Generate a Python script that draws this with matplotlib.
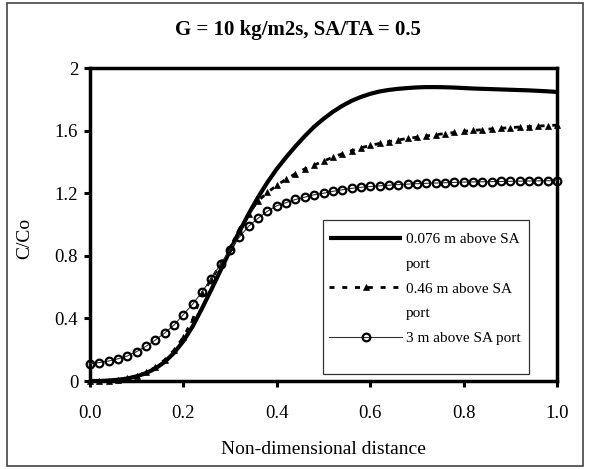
import matplotlib
matplotlib.use("Agg")
import matplotlib.pyplot as plt
from matplotlib.lines import Line2D
from matplotlib.patches import Rectangle

plt.rcParams['font.family'] = ['Liberation Serif', 'DejaVu Serif']

# non-dimensional distance
x = [0.00, 0.02, 0.04, 0.06, 0.08, 0.10, 0.12, 0.14, 0.16, 0.18,
     0.20, 0.22, 0.24, 0.26, 0.28, 0.30, 0.32, 0.34, 0.36, 0.38,
     0.40, 0.42, 0.44, 0.46, 0.48, 0.50, 0.52, 0.54, 0.56, 0.58,
     0.60, 0.62, 0.64, 0.66, 0.68, 0.70, 0.72, 0.74, 0.76, 0.78,
     0.80, 0.82, 0.84, 0.86, 0.88, 0.90, 0.92, 0.94, 0.96, 0.98, 1.00]

# C/Co at 0.076 m above SA port
c_076 = [0.000, 0.000, 0.003, 0.008, 0.016, 0.030, 0.050, 0.080, 0.122, 0.180,
         0.255, 0.350, 0.465, 0.585, 0.710, 0.835, 0.955, 1.070, 1.175, 1.270,
         1.355, 1.430, 1.500, 1.565, 1.625, 1.675, 1.720, 1.758, 1.790, 1.815,
         1.835, 1.850, 1.860, 1.867, 1.872, 1.876, 1.878, 1.878, 1.877, 1.875,
         1.872, 1.869, 1.867, 1.865, 1.863, 1.861, 1.859, 1.857, 1.854, 1.851, 1.847]

# C/Co at 0.46 m above SA port
c_046 = [0.000, 0.000, 0.003, 0.008, 0.017, 0.032, 0.055, 0.088, 0.135, 0.197,
         0.280, 0.395, 0.560, 0.650, 0.750, 0.855, 0.970, 1.070, 1.150, 1.205,
         1.250, 1.290, 1.325, 1.355, 1.380, 1.405, 1.430, 1.452, 1.472, 1.490,
         1.505, 1.518, 1.530, 1.540, 1.550, 1.558, 1.566, 1.574, 1.581, 1.588,
         1.595, 1.601, 1.606, 1.611, 1.615, 1.619, 1.623, 1.626, 1.629, 1.632, 1.635]

# C/Co at 3 m above SA port
c_3 = [0.110, 0.118, 0.128, 0.142, 0.160, 0.188, 0.222, 0.262, 0.307, 0.358,
       0.425, 0.492, 0.570, 0.655, 0.750, 0.840, 0.920, 0.990, 1.040, 1.085,
       1.120, 1.140, 1.160, 1.175, 1.190, 1.200, 1.212, 1.222, 1.231, 1.238,
       1.243, 1.247, 1.251, 1.255, 1.258, 1.261, 1.263, 1.265, 1.267, 1.269,
       1.271, 1.272, 1.273, 1.274, 1.275, 1.276, 1.277, 1.278, 1.279, 1.280, 1.280]

x_ticks = [0.0, 0.2, 0.4, 0.6, 0.8, 1.0]
x_tick_labels = ['0.0', '0.2', '0.4', '0.6', '0.8', '1.0']
y_ticks = [0, 0.4, 0.8, 1.2, 1.6, 2]
y_tick_labels = ['0', '0.4', '0.8', '1.2', '1.6', '2']

labels = ['0.076 m above SA', '0.46 m above SA', '3 m above SA port']


def main():
    fig = plt.figure(figsize=(5.89, 4.69), dpi=100)
    ax = fig.add_axes([0.1528, 0.1876, 0.7929, 0.6674])

    l1, = ax.plot(x, c_076, color='black', linewidth=3, solid_capstyle='butt',
                  zorder=3)
    l2, = ax.plot(x, c_046, color='black', linewidth=2, dashes=(1.8, 2.8),
                  marker='^', markersize=4.5, markeredgewidth=0.5,
                  zorder=4, clip_on=False)
    l3, = ax.plot(x, c_3, color='#333333', linewidth=0.8,
                  marker='o', markersize=5.5, markerfacecolor='none',
                  markeredgecolor='black', markeredgewidth=1.6,
                  zorder=5, clip_on=False)

    ax.set_xlim(0, 1)
    ax.set_ylim(0, 2)
    ax.set_xticks(x_ticks)
    ax.set_xticklabels(x_tick_labels)
    ax.set_yticks(y_ticks)
    ax.set_yticklabels(y_tick_labels)

    for s in ax.spines.values():
        s.set_linewidth(2.5)
    ax.tick_params(axis='both', direction='out', length=4.5, width=2.2,
                   labelsize=13.5)
    ax.tick_params(axis='x', pad=13)
    ax.tick_params(axis='y', pad=4)

    ax.set_xlabel('Non-dimensional distance', fontsize=14)
    ax.set_ylabel('C/Co', fontsize=14)
    ax.xaxis.set_label_coords(0.5, -0.22)
    ax.xaxis.label.set_va('center')
    ax.yaxis.set_label_coords(-0.139, 0.457)
    ax.yaxis.label.set_va('center')

    fig.text(0.505, 1 - 30 / 469, 'G = 10 kg/m2s, SA/TA = 0.5',
             ha='center', va='center', fontsize=15, fontweight='bold')

    # legend: label lines that wrap get a blank handle
    blank = Line2D([], [], linestyle='none')
    handles = [l1, blank, l2, blank, l3]
    texts = [labels[0], 'port', labels[1], 'port', labels[2]]
    ax.legend(handles, texts, loc='upper left',
              bbox_to_anchor=(0.512, 0.474), borderaxespad=0, borderpad=0,
              frameon=False, fontsize=11, handlelength=4.8,
              handletextpad=0.25, labelspacing=0.72, numpoints=1)
    ax.add_patch(Rectangle((0.499, 0.022), 0.441, 0.492,
                           transform=ax.transAxes, fill=False,
                           edgecolor='#333333', linewidth=0.9, zorder=6))

    # outer chart border
    fig.add_artist(Rectangle((0.012, 0.006), 0.978, 0.987,
                             transform=fig.transFigure, fill=False,
                             edgecolor='#444444', linewidth=1.2))

    plt.savefig('out.png', dpi=100)


if __name__ == "__main__":
    main()
